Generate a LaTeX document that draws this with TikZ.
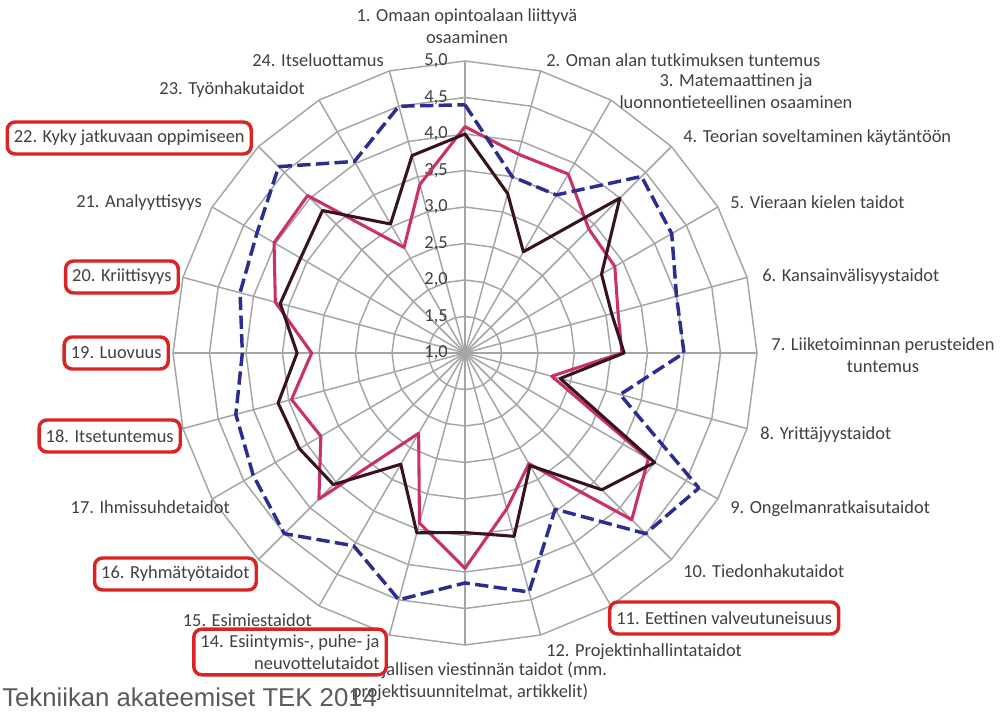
\documentclass[tikz,border=0pt]{standalone}
\usepackage{fontspec}
\setmainfont{Carlito}
\newfontfamily\titlefont{Liberation Sans}
\definecolor{gridgray}{RGB}{165,165,165}
\definecolor{dashblue}{RGB}{45,45,145}
\definecolor{pinkline}{RGB}{200,50,100}
\definecolor{darkline}{RGB}{55,20,28}
\definecolor{boxred}{RGB}{220,35,35}
\definecolor{txtgray}{RGB}{64,64,64}
\definecolor{titlegray}{RGB}{90,90,90}
\tikzset{
  lbl/.style={font=\fontsize{13.8}{16.5}\selectfont, text=txtgray, inner sep=0pt},
  redbox/.style={lbl, draw=boxred, line width=2.6pt, rounded corners=6pt, fill=white, inner xsep=5pt, minimum height=24pt},
  grid/.style={gridgray, line width=1.1pt},
  serie/.style={line width=2.3pt, line join=round},
}
\begin{document}
\begin{tikzpicture}[x=0.75pt,y=0.75pt]
\useasboundingbox[fill=white] (-465,-359) rectangle (543,353);
% rings and spokes
\foreach \i in {1,...,8}
  \draw[grid] (90:{36.5*\i}) \foreach \a in {1,...,23}{ -- ({90-15*\a}:{36.5*\i})} -- cycle;
\foreach \a in {0,...,23} \draw[grid] (0,0) -- ({90-15*\a}:292);
\foreach \t [count=\i from 0] in {{1,0},{1,5},{2,0},{2,5},{3,0},{3,5},{4,0},{4,5},{5,0}}
  \node[lbl, anchor=east] (v\i) at (-17,{36.5*\i}) {\t};
% data
\foreach \v [count=\k] in {4.4,3.5,3.5,4.42,4.27,4.0,4.0,3.2,4.7,4.5,3.47,4.39,4.15,4.5,4.05,4.5,4.35,4.25,4.05,4.19,4.29,4.61,4.03,4.5}
  \coordinate (b\k) at ({105-15*\k}:{73*(\v-1)});
\foreach \v [count=\k] in {4.1,3.82,3.83,3.4,3.37,3.17,3.15,2.23,3.9,4.23,2.75,3.21,3.95,3.41,2.27,3.83,3.28,3.46,3.1,3.69,4.02,4.05,2.67,3.39}
  \coordinate (p\k) at ({105-15*\k}:{73*(\v-1)});
\foreach \v [count=\k] in {4.0,3.26,2.6,4.0,3.16,3.08,3.18,2.35,4.0,3.65,2.78,3.6,3.46,3.55,2.76,3.55,3.62,3.65,3.3,3.62,3.6,3.76,3.04,3.8}
  \coordinate (d\k) at ({105-15*\k}:{73*(\v-1)});
\draw[serie, pinkline] (p1) \foreach \k in {2,...,24}{ -- (p\k)} -- cycle;
\draw[serie, darkline] (d1) \foreach \k in {2,...,24}{ -- (d\k)} -- cycle;
\draw[serie, dashblue, line width=2.6pt, dash pattern=on 10pt off 4pt] (b1) \foreach \k in {2,...,24}{ -- (b\k)} -- cycle;
% labels
\node[lbl, align=center] (l1) at (2,327) {1. Omaan opintoalaan liittyvä\\osaaminen};
\node[lbl, anchor=west] (l2) at (81,293) {2. Oman alan tutkimuksen tuntemus};
\node[lbl, align=center] (l3) at (271,262) {3. Matemaattinen ja\\luonnontieteellinen osaaminen};
\node[lbl, anchor=west] (l4) at (218,215) {4. Teorian soveltaminen käytäntöön};
\node[lbl, anchor=west] (l5) at (265,151) {5. Vieraan kielen taidot};
\node[lbl, anchor=west] (l6) at (297,76) {6. Kansainvälisyystaidot};
\node[lbl, align=center] (l7) at (418,-2) {7. Liiketoiminnan perusteiden\\tuntemus};
\node[lbl, anchor=west] (l8) at (295,-82) {8. Yrittäjyystaidot};
\node[lbl, anchor=west] (l9) at (265,-156) {9. Ongelmanratkaisutaidot};
\node[lbl, anchor=west] (l10) at (218,-218) {10. Tiedonhakutaidot};
\node[redbox, anchor=west] (l11) at (143,-265) {11. Eettinen valveutuneisuus};
\node[lbl, anchor=west] (l12) at (81,-299) {12. Projektinhallintataidot};
\node[lbl, align=center] (l13) at (5,-328) {13. Kirjallisen viestinnän taidot (mm.\\projektisuunnitelmat, artikkelit)};
\node[redbox, align=right, anchor=east, inner ysep=4pt] (l14) at (-77,-299) {14. Esiintymis-, puhe- ja\\neuvottelutaidot};
\node[lbl, anchor=east] (l15) at (-153,-267) {15. Esimiestaidot};
\node[redbox, anchor=east] (l16) at (-207,-221) {16. Ryhmätyötaidot};
\node[lbl, anchor=east] (l17) at (-235,-154) {17. Ihmissuhdetaidot};
\node[redbox, anchor=east] (l18) at (-283,-83) {18. Itsetuntemus};
\node[redbox, anchor=east] (l19) at (-295,0) {19. Luovuus};
\node[redbox, anchor=east] (l20) at (-285,76) {20. Kriittisyys};
\node[lbl, anchor=east] (l21) at (-263,150) {21. Analyyttisyys};
\node[redbox, anchor=east] (l22) at (-212,215) {22. Kyky jatkuvaan oppimiseen};
\node[lbl, anchor=east] (l23) at (-160,263) {23. Työnhakutaidot};
\node[lbl, anchor=east] (l24) at (-81,293) {24. Itseluottamus};
\node[font=\titlefont\fontsize{19.3}{22}\selectfont, text=titlegray, anchor=west, inner sep=0pt] (tek) at (-463,-344) {Tekniikan akateemiset TEK 2014};
\end{tikzpicture}
\end{document}
